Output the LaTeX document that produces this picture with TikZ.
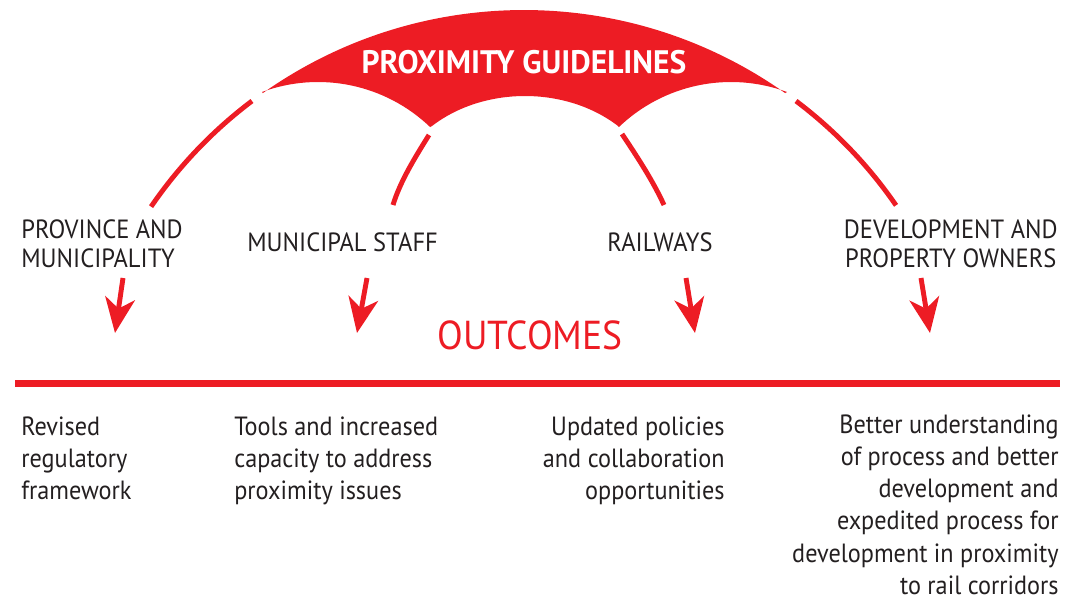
\documentclass[tikz,border=0pt]{standalone}
\usepackage{fontspec}
\setmainfont{PT Sans}[FakeStretch=0.92]
\newfontfamily\headfont{PT Sans}[FakeStretch=0.93]
\newfontfamily\titlefont{PT Sans}[FakeStretch=0.97]
\usetikzlibrary{arrows.meta}
\definecolor{pgred}{HTML}{ED1C24}
\definecolor{ink}{HTML}{231F20}
\tikzstyle{every node} = [inner sep=0pt, text=ink]
\tikzstyle{stakeholder} = [font=\headfont\fontsize{15}{17}\selectfont]
\tikzstyle{outcome} = [font=\fontsize{15}{18.4}\selectfont]
\tikzstyle{leg} = [draw=pgred, line width=2.8pt]
\tikzstyle{outarrow} = [draw=pgred, line width=2.8pt, -{Stealth[length=20pt, width=17pt, inset=6pt]}]

\begin{document}
\begin{tikzpicture}[x=0.02cm, y=0.02cm]
    \useasboundingbox (0,0) rectangle (1082,-601);
    % centres of the arches
    \coordinate (outer) at (524,-462);
    \coordinate (linner) at (318,-244);
    \coordinate (rinner) at (731,-244);
    \coordinate (minner) at (525,-205);

    % red canopy
    \fill[pgred] ([shift={(125.3:452)}]outer) arc[start angle=125.3, end angle=54.7, radius=452]
        -- ([shift={(69.8:162)}]rinner) arc[start angle=69.8, end angle=133.8, radius=162]
        -- ([shift={(46.6:135 and 109)}]minner) arc[start angle=46.6, end angle=133.4, x radius=135, y radius=109]
        -- ([shift={(46.2:162)}]linner) arc[start angle=46.2, end angle=110.2, radius=162]
        -- cycle;
    \node[font=\titlefont\fontsize{18.5}{20}\selectfont\bfseries, text=white, anchor=north] (guide) at (524,-50) {PROXIMITY GUIDELINES};

    % legs
    \coordinate (ml1) at (429,-135); \coordinate (ml2) at (393,-205);
    \coordinate (mr1) at (622,-134); \coordinate (mr2) at (664,-205);
    \draw[leg] ([shift={(127:452)}]outer) arc[start angle=127, end angle=145.6, radius=452];
    \draw[leg] ([shift={(53:452)}]outer) arc[start angle=53, end angle=34.6, radius=452];
    \draw[leg] (ml1) .. controls (414,-159) and (400,-182) .. (ml2);
    \draw[leg] (mr1) .. controls (638,-158) and (653,-181) .. (mr2);

    % who
    \node[stakeholder, align=left, anchor=north west] (prov) at (21,-219) {PROVINCE AND\\MUNICIPALITY};
    \node[stakeholder, anchor=north west] (staff) at (247,-232) {MUNICIPAL STAFF};
    \node[stakeholder, anchor=north west] (rail) at (607,-232) {RAILWAYS};
    \node[stakeholder, align=center, anchor=north east] (owners) at (1058,-219) {DEVELOPMENT AND\\PROPERTY OWNERS};

    % arrows down to the outcomes
    \coordinate (p1) at (123,-278); \coordinate (q1) at (115,-333);
    \coordinate (p2) at (367,-278); \coordinate (q2) at (357,-333);
    \coordinate (p3) at (686,-278); \coordinate (q3) at (695,-333);
    \coordinate (p4) at (921,-278); \coordinate (q4) at (930,-333);
    \draw[outarrow] (p1) -- (q1);
    \draw[outarrow] (p2) -- (q2);
    \draw[outarrow] (p3) -- (q3);
    \draw[outarrow] (p4) -- (q4);

    \node[font=\headfont\fontsize{23}{26}\selectfont, text=pgred, anchor=north] (outc) at (530,-320) {OUTCOMES};
    \coordinate (barl) at (15,-383.5);
    \coordinate (barr) at (1060,-383.5);
    \draw[pgred, line width=4pt] (barl) -- (barr);

    % outcomes
    \node[outcome, align=left, anchor=north west] (out1) at (21,-416) {Revised\\regulatory\\framework};
    \node[outcome, align=left, anchor=north west] (out2) at (234,-416) {Tools and increased\\capacity to address\\proximity issues};
    \node[outcome, align=right, anchor=north east] (out3) at (725,-416) {Updated policies\\and collaboration\\opportunities};
    \node[outcome, align=right, anchor=north east] (out4) at (1059,-414) {Better understanding\\of process and better\\development and\\expedited process for\\development in proximity\\to rail corridors};
\end{tikzpicture}
\end{document}
